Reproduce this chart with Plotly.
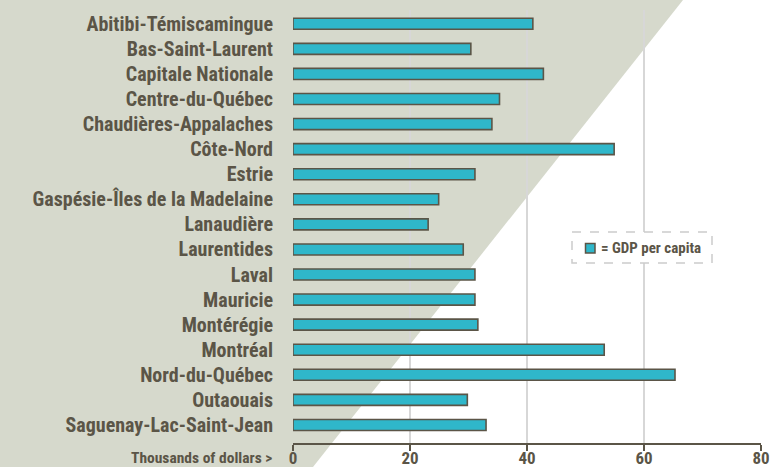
import plotly.graph_objects as go

regions = [
    "Abitibi-Témiscamingue", "Bas-Saint-Laurent", "Capitale Nationale",
    "Centre-du-Québec", "Chaudières-Appalaches", "Côte-Nord", "Estrie",
    "Gaspésie-Îles de la Madelaine", "Lanaudière", "Laurentides", "Laval",
    "Mauricie", "Montérégie", "Montréal", "Nord-du-Québec", "Outaouais",
    "Saguenay-Lac-Saint-Jean",
]
gdp_per_capita = [41.0, 30.4, 42.8, 35.3, 34.0, 54.9, 31.1, 24.9, 23.1, 29.1,
                  31.1, 31.1, 31.6, 53.2, 65.3, 29.8, 33.0]
x_ticks = [0, 20, 40, 60, 80]
series_name = "= GDP per capita"
axis_note = "Thousands of dollars >"

W, H = 780, 467
ML, MR, MT, MB = 293, 19, 10, 24
PW, PH = W - ML - MR, H - MT - MB

def px(x):
    return (x - ML) / PW

def py(y):
    return (H - MB - y) / PH

FONT = "Liberation Sans Narrow, Roboto Condensed, DejaVu Sans Condensed, Arial Narrow, sans-serif"
TXT = "#5b5547"
TEAL = "#2fb7ca"
BG = "#d6d9cc"
GRID = "#d7d7d7"

fig = go.Figure()
fig.add_trace(go.Bar(
    x=gdp_per_capita, y=regions, orientation="h", name=series_name,
    marker=dict(color=TEAL, line=dict(color=TXT, width=1.6)),
    showlegend=False,
))

shapes = [
    # background diagonal band
    dict(type="path", xref="paper", yref="paper", layer="below",
         path=f"M{px(0)},{py(0)} L{px(683)},{py(0)} L{px(313)},{py(H)} L{px(0)},{py(H)} Z",
         fillcolor=BG, line=dict(width=0)),
    # legend box
    dict(type="rect", xref="paper", yref="paper", layer="above",
         x0=px(572), x1=px(712), y0=py(232), y1=py(263),
         fillcolor="white", line=dict(color="#cccccc", width=1.5, dash="dash")),
    # legend swatch
    dict(type="rect", xref="paper", yref="paper", layer="above",
         x0=px(585.5), x1=px(595), y0=py(243.5), y1=py(253),
         fillcolor=TEAL, line=dict(color=TXT, width=1.5)),
]

annotations = [
    dict(text=series_name, xref="paper", yref="paper", x=px(599), y=py(248),
         xanchor="left", yanchor="middle", showarrow=False,
         font=dict(family=FONT, size=15, color=TXT, weight="bold")),
    dict(text=axis_note, xref="paper", yref="paper", x=px(274), y=py(458),
         xanchor="right", yanchor="middle", showarrow=False,
         font=dict(family=FONT, size=15.5, color=TXT, weight="bold")),
]

fig.update_layout(
    width=W, height=H,
    margin=dict(l=ML, r=MR, t=MT, b=MB, pad=0, autoexpand=False),
    paper_bgcolor="white", plot_bgcolor="rgba(0,0,0,0)",
    bargap=0.56,
    shapes=shapes, annotations=annotations,
    xaxis=dict(range=[0, 80], tickvals=x_ticks, showgrid=True, gridcolor=GRID,
               gridwidth=1.5, zeroline=False, showline=True, linecolor=TXT,
               linewidth=2, ticks="outside", ticklen=6, tickwidth=2,
               tickcolor=TXT, fixedrange=True, automargin=False,
               ticklabelstandoff=-7,
               tickfont=dict(family=FONT, size=17, color=TXT, weight="bold")),
    yaxis=dict(categoryorder="array", categoryarray=regions,
               range=[16.72, -0.55], showgrid=False, zeroline=False,
               showline=False, ticks="", ticklabelstandoff=19, automargin=False,
               tickfont=dict(family=FONT, size=20, color=TXT, weight="bold")),
)

fig.write_html("out.html")
